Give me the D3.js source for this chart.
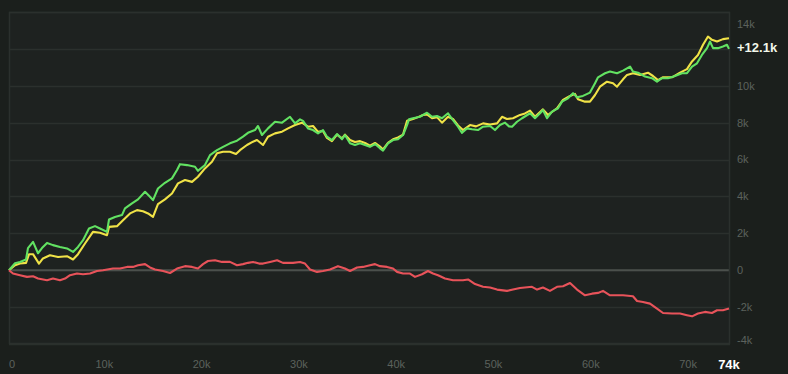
<!DOCTYPE html>
<html><head><meta charset="utf-8">
<script src="https://cdn.jsdelivr.net/npm/d3@7"></script>
<style>
html,body{margin:0;padding:0;background:#1b1f1c;}
svg{display:block;font-family:"Liberation Sans",Arial,sans-serif;}
</style></head><body>
<svg id="c" width="788" height="374"></svg>
<script>
// x values in thousands of trades, y values in thousands
const greenX = [0,0.62,1.13,1.75,1.95,2.47,2.98,3.39,3.91,4.52,5.24,5.96,6.58,7.09,7.61,8.22,8.84,9.35,10.07,10.28,10.89,11.61,11.92,12.64,13.26,13.98,14.49,14.80,15.31,16.03,16.75,17.27,17.57,18.29,19.12,19.42,20.14,20.66,21.38,22.00,22.71,23.43,24.05,24.56,25.28,25.59,26.00,26.62,27.34,28.06,28.88,29.40,29.91,30.22,30.73,31.25,31.76,32.27,32.68,33.19,33.71,34.23,34.53,35.05,35.56,36.08,36.59,37.10,37.62,38.13,38.44,38.95,39.47,39.98,40.50,40.91,41.11,41.52,42.24,42.96,43.48,43.99,44.50,45.12,45.63,46.15,46.56,47.07,47.59,48.20,48.72,49.44,49.95,50.46,50.98,51.39,51.70,52.21,52.73,53.55,54.06,54.58,54.88,55.30,55.81,56.43,56.84,57.45,57.97,58.38,58.99,59.71,60.23,60.54,61.26,61.77,62.49,63.11,63.83,64.13,64.65,65.37,66.09,66.60,67.11,67.73,68.45,69.17,69.68,70.20,70.71,71.22,71.74,72.05,72.36,72.87,73.38,73.79,74.00];
const greenY = [0,0.38,0.45,0.58,1.2,1.54,0.92,1.2,1.48,1.36,1.26,1.18,0.99,1.26,1.63,2.26,2.39,2.26,2.08,2.75,2.89,2.99,3.35,3.62,3.84,4.25,3.98,3.8,4.43,4.74,4.98,5.43,5.75,5.7,5.61,5.39,5.7,6.24,6.51,6.69,6.88,7.02,7.24,7.45,7.6,7.82,7.33,7.69,8.05,8.0,8.32,7.96,8.18,8.1,7.69,7.6,7.42,7.6,7.24,7.06,7.38,7.1,7.33,6.88,6.79,6.88,6.79,6.69,6.84,6.61,6.48,6.88,7.06,7.1,7.33,7.87,8.18,8.24,8.32,8.54,8.32,8.36,8.24,8.51,8.14,7.78,7.45,7.69,7.64,7.6,7.78,7.82,7.6,7.87,8.0,7.8,7.78,8.05,8.24,8.51,8.24,8.51,8.69,8.24,8.6,8.78,9.14,9.32,9.6,9.38,9.45,9.63,10.14,10.46,10.68,10.77,10.68,10.82,11.04,10.77,10.71,10.5,10.41,10.22,10.41,10.41,10.53,10.68,10.68,11.04,11.22,11.67,12.04,12.4,12.04,12.04,12.13,12.22,12.0];

const yellowX = [0,0.62,1.13,1.75,2.06,2.47,3.08,3.49,4.21,5.04,5.96,6.58,7.09,7.81,8.63,9.35,10.07,10.28,11.10,11.72,12.44,13.16,13.77,14.29,14.80,15.31,16.03,16.75,17.37,18.09,18.81,19.42,20.14,20.86,21.38,22.00,22.71,23.33,23.74,24.46,25.08,25.49,26.11,26.62,27.34,28.06,28.68,29.40,30.11,30.73,31.25,31.76,32.27,32.68,33.19,33.71,34.23,34.53,35.05,35.56,36.08,36.59,37.10,37.62,38.13,38.44,38.95,39.47,39.98,40.50,40.91,41.52,42.04,42.55,42.96,43.48,43.99,44.50,45.12,45.63,46.15,46.66,47.38,48.00,48.72,49.44,50.16,50.67,51.18,51.80,52.52,53.03,53.55,54.06,54.88,55.40,56.32,56.94,57.66,58.17,58.48,59.20,59.71,60.23,60.74,61.46,62.08,62.49,63.11,63.52,64.13,64.86,65.67,66.19,66.70,67.22,68.14,68.97,69.68,70.20,70.81,71.33,71.84,72.25,72.77,73.38,74.00];
const yellowY = [0,0.27,0.36,0.4,0.87,0.87,0.36,0.64,0.81,0.72,0.76,0.58,0.87,1.45,2.08,2.03,1.9,2.35,2.39,2.71,3.08,3.26,3.2,3.08,2.89,3.58,3.84,4.16,4.71,4.89,4.79,5.07,5.52,5.88,6.34,6.42,6.42,6.3,6.51,6.79,6.97,7.06,6.79,7.24,7.42,7.51,7.69,7.87,8.0,7.78,7.82,7.5,7.55,7.17,7.0,7.35,7.15,7.35,7.06,6.95,7.0,6.9,6.75,6.9,6.7,6.55,6.9,7.1,7.2,7.35,8.1,8.2,8.3,8.42,8.45,8.24,8.3,8.0,8.32,8.2,7.85,7.6,7.87,7.8,7.96,7.9,7.96,8.32,8.2,8.24,8.42,8.5,8.65,8.32,8.72,8.42,8.78,9.23,9.45,9.56,9.27,9.14,9.14,9.5,9.95,10.22,10.14,9.95,10.35,10.59,10.68,10.59,10.71,10.53,10.31,10.46,10.46,10.71,10.9,11.32,11.67,12.22,12.67,12.49,12.4,12.53,12.58];

const redX = [0,0.41,1.13,1.85,2.47,2.98,3.91,4.52,5.24,5.76,6.27,6.99,7.61,8.33,9.04,9.66,10.69,11.41,12.13,12.74,13.26,13.98,14.49,15.01,15.83,16.55,17.27,18.09,18.81,19.42,19.94,20.45,21.17,21.89,22.71,23.43,24.05,24.56,25.08,25.70,26.11,26.83,27.55,28.16,29.19,29.91,30.42,30.94,31.66,32.27,32.99,33.81,34.53,35.05,35.77,36.38,37.10,37.62,38.13,38.85,39.47,39.88,40.50,41.21,41.73,42.45,43.06,43.58,44.09,44.81,45.63,46.66,47.18,47.90,48.72,49.44,50.16,51.18,51.80,52.52,53.75,54.27,54.88,55.60,56.32,56.94,57.66,58.38,59.20,59.92,60.54,61.05,61.77,62.49,63.11,64.13,64.55,65.16,65.88,66.60,67.22,68.14,68.97,69.68,70.20,70.81,71.53,72.25,72.77,73.38,74.00];
const redY = [0,-0.18,-0.27,-0.36,-0.33,-0.45,-0.54,-0.45,-0.54,-0.45,-0.27,-0.18,-0.22,-0.18,-0.04,0,0.09,0.09,0.18,0.18,0.27,0.33,0.15,0.04,-0.04,-0.15,0.09,0.22,0.18,0.09,0.33,0.5,0.54,0.45,0.45,0.27,0.33,0.4,0.45,0.36,0.36,0.45,0.54,0.4,0.4,0.45,0.36,0.04,-0.09,-0.04,0.04,0.22,0.09,-0.04,0.15,0.18,0.27,0.33,0.22,0.18,0.09,-0.09,-0.18,-0.18,-0.36,-0.22,-0.04,-0.18,-0.27,-0.45,-0.54,-0.54,-0.5,-0.75,-0.9,-0.94,-1.05,-1.12,-1.05,-0.96,-0.9,-1.05,-0.94,-1.12,-0.9,-0.87,-0.69,-1.05,-1.36,-1.27,-1.23,-1.12,-1.36,-1.36,-1.36,-1.41,-1.67,-1.72,-1.81,-2.08,-2.32,-2.35,-2.35,-2.44,-2.5,-2.35,-2.26,-2.32,-2.17,-2.17,-2.08];

const xTicks = [0,10,20,30,40,50,60,70];
const xTickLabels = ["0","10k","20k","30k","40k","50k","60k","70k"];
const xCurrent = 74;
const xCurrentLabel = "74k";
const yTicks = [-4,-2,0,2,4,6,8,10,14];
const yTickLabels = ["-4k","-2k","0","2k","4k","6k","8k","10k","14k"];
const yGrid = [-4,-2,0,2,4,6,8,10,12,14];
const endValue = 12.1;
const endLabel = "+12.1k";

const series = [
  {name:"yellow", xs: yellowX, ys: yellowY, color:"#f0e247"},
  {name:"green", xs: greenX, ys: greenY, color:"#62e262"},
  {name:"red", xs: redX, ys: redY, color:"#e8535a"}
];

const L = 9, R = 730, T = 12, B = 344;
const svg = d3.select("#c");
const x = d3.scaleLinear().domain([0, 74]).range([L, R-1]);
const y = d3.scaleLinear().domain([-4, 14]).range([B, T]);

svg.append("rect").attr("x", L).attr("y", T).attr("width", R-L).attr("height", B-T).attr("fill", "#1e2220");

// grid
svg.append("g").selectAll("line").data(yGrid).join("line")
  .attr("x1", L).attr("x2", R).attr("y1", d=>Math.round(y(d))+0.5).attr("y2", d=>Math.round(y(d))+0.5)
  .attr("stroke", "#2b302d").attr("stroke-width", 1.5);
svg.append("line").attr("x1", L).attr("x2", R).attr("y1", y(0)).attr("y2", y(0))
  .attr("stroke", "#4b504c").attr("stroke-width", 2);
// border
svg.append("rect").attr("x", L+0.5).attr("y", T+0.5).attr("width", R-L-1).attr("height", B-T-1)
  .attr("fill","none").attr("stroke","#2b302d").attr("stroke-width",1.5);

const line = d3.line().x(d=>x(d[0])).y(d=>y(d[1]));
series.forEach(s => {
  const pts = s.xs.map((v,i)=>[v, s.ys[i]]);
  svg.append("path").datum(pts).attr("d", line)
    .attr("fill","none").attr("stroke", s.color).attr("stroke-width", 2.1)
    .attr("stroke-linejoin","round");
});

// y axis labels (right)
svg.append("g").selectAll("text").data(yTicks).join("text")
  .attr("x", R + 7)
  .attr("y", d => Math.min(Math.max(y(d), T + 12), B - 4))
  .attr("dy", "0.35em")
  .attr("fill", "#5c625d").attr("font-size", 11)
  .text((d,i)=>yTickLabels[i]);

svg.append("text").attr("x", R + 7).attr("y", y(endValue)).attr("dy","0.35em")
  .attr("fill", "#f2f7ea").attr("font-size", 13).attr("font-weight","bold").text(endLabel);

// x axis labels
svg.append("g").selectAll("text").data(xTicks).join("text")
  .attr("x", d => Math.max(x(d) - 2, L + 3))
  .attr("y", 364).attr("dy","0.35em").attr("text-anchor","middle")
  .attr("fill", "#5c625d").attr("font-size", 11)
  .text((d,i)=>xTickLabels[i]);
svg.append("text").attr("x", x(xCurrent)).attr("y", 364).attr("dy","0.35em").attr("text-anchor","middle")
  .attr("fill", "#ffffff").attr("font-size", 13).attr("font-weight","bold").text(xCurrentLabel);
</script>
</body></html>
